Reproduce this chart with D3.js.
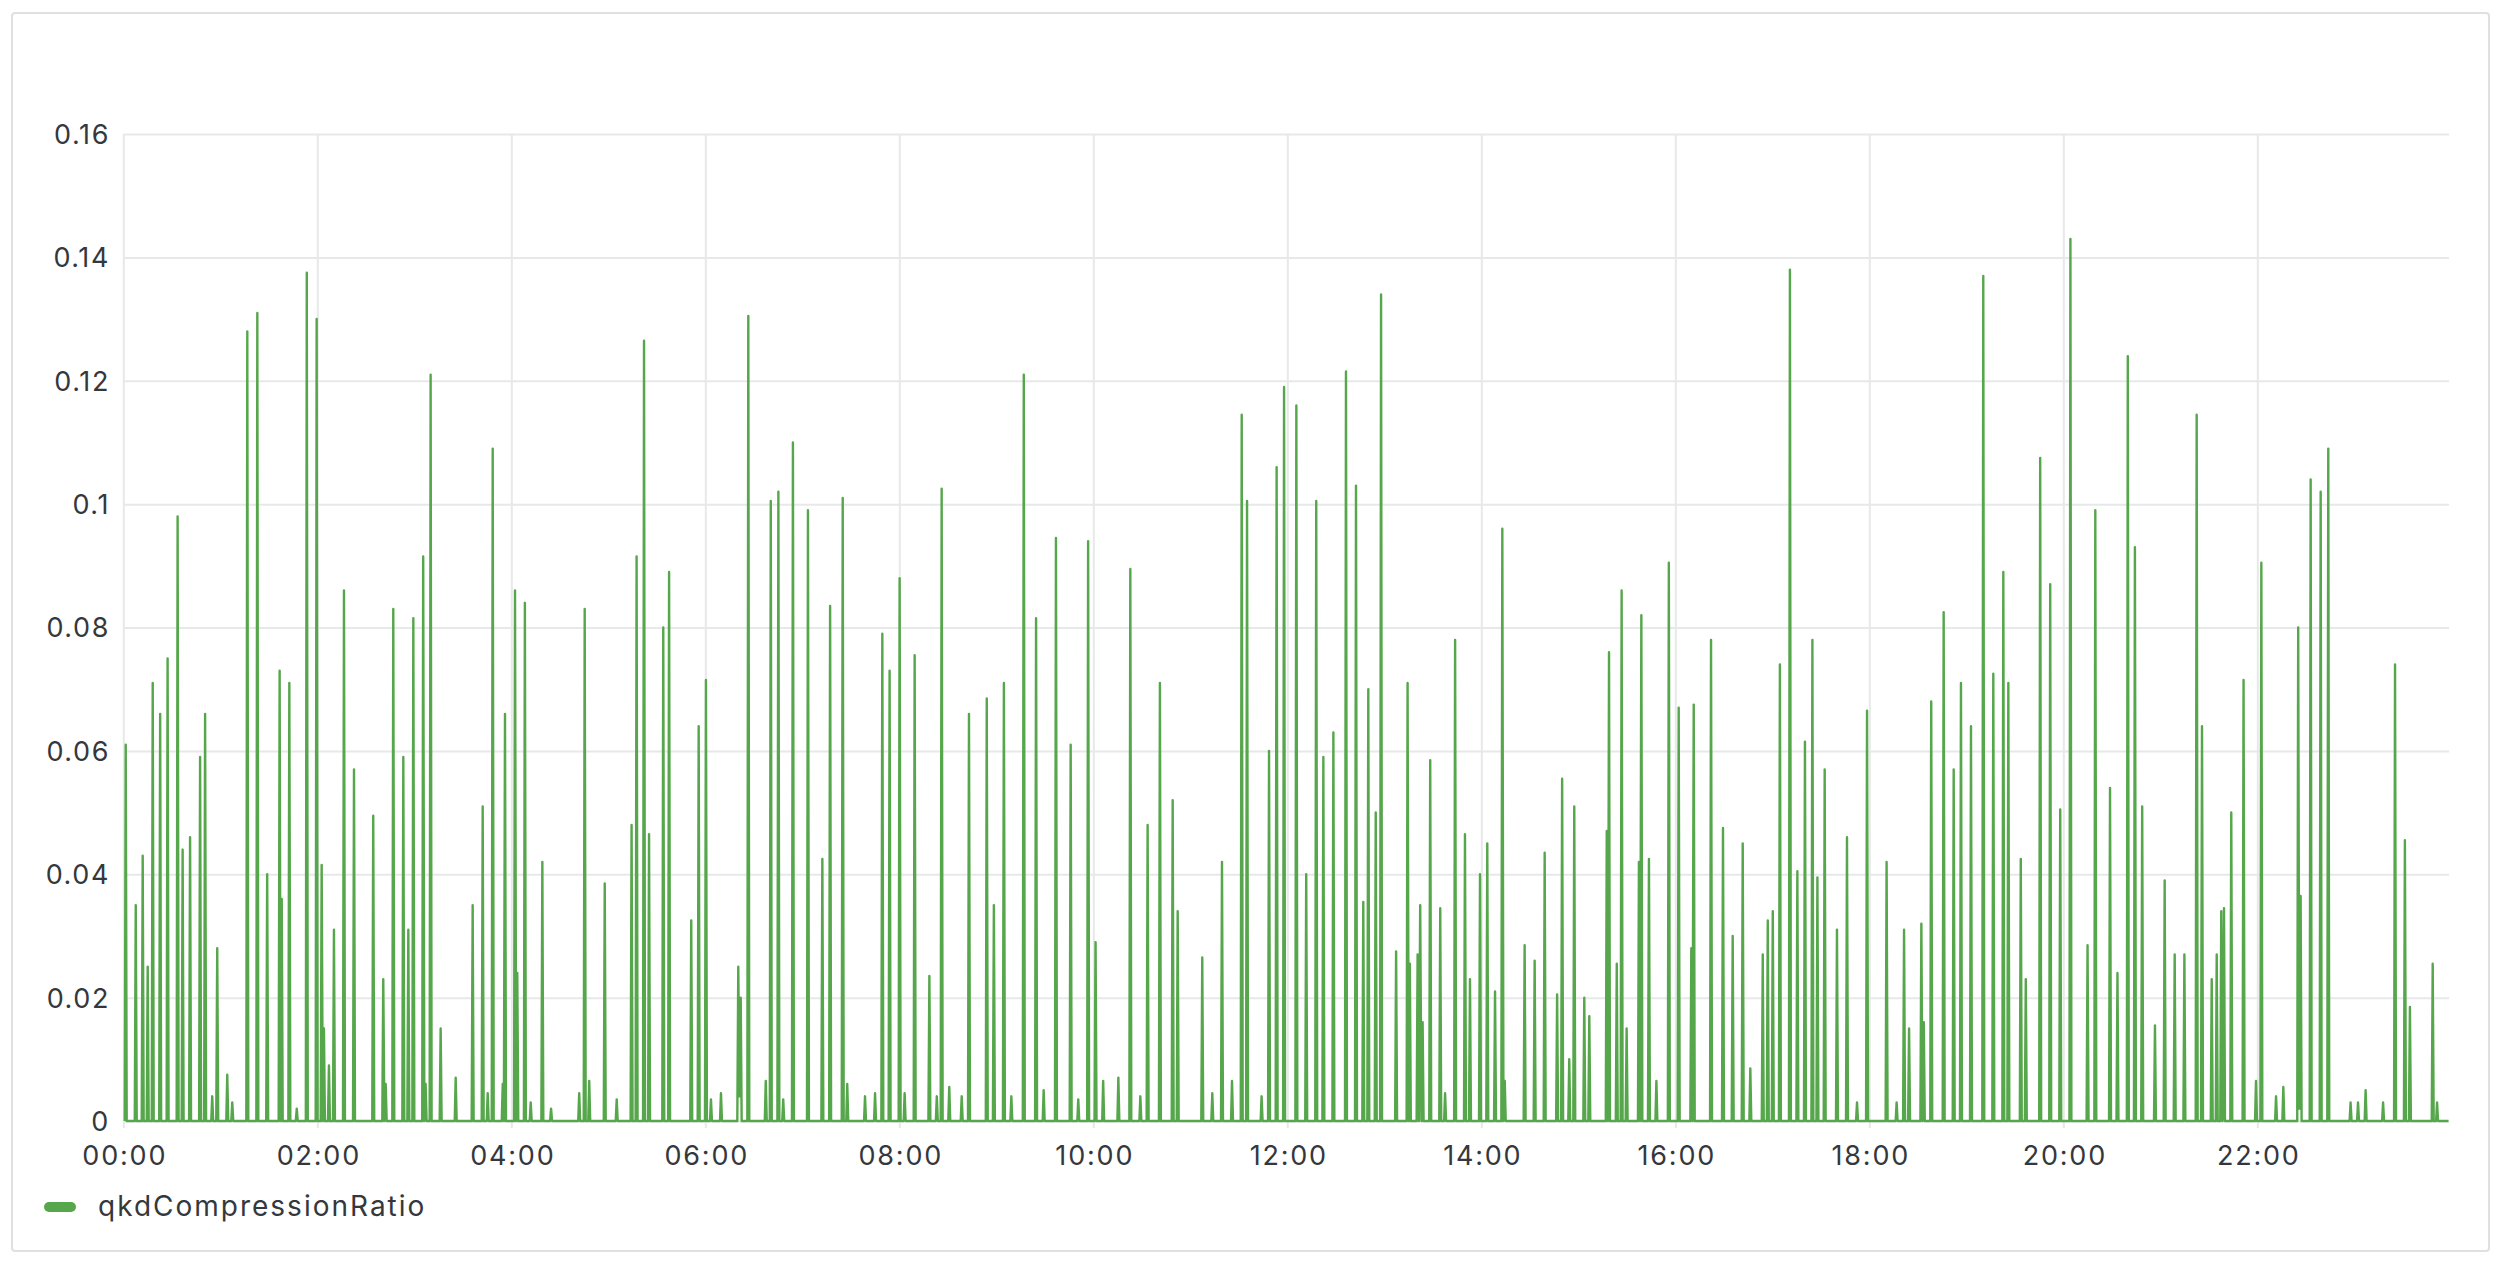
<!DOCTYPE html>
<html>
<head>
<meta charset="utf-8">
<script src="https://cdn.jsdelivr.net/npm/d3@7"></script>
<style>
  html, body { margin: 0; padding: 0; background: #ffffff; }
  svg { display: block; }
</style>
</head>
<body>
<svg id="chart" width="2500" height="1262"></svg>
<script>
// ---------------- data ----------------
const seriesName = "qkdCompressionRatio";
const yTickValues = [0, 0.02, 0.04, 0.06, 0.08, 0.1, 0.12, 0.14, 0.16];
const yTickLabels = ["0", "0.02", "0.04", "0.06", "0.08", "0.1", "0.12", "0.14", "0.16"];
const xTickMinutes = [0, 120, 240, 360, 480, 600, 720, 840, 960, 1080, 1200, 1320];
const xTickLabels = ["00:00", "02:00", "04:00", "06:00", "08:00", "10:00", "12:00", "14:00", "16:00", "18:00", "20:00", "22:00"];
const timeRangeMinutes = [0, 1438.5];
// [minutes since 00:00, qkdCompressionRatio]
const ratioSamples = [
[0.9,0],[1.5,.061],[2.1,0],[7.1,0],[7.7,.035],[8.3,0],[11.4,0],[12.0,.043],[12.6,0],[14.5,0],[15.1,.025],[15.7,0],
[17.6,0],[18.2,.071],[18.8,0],[22.2,0],[22.8,.066],[23.4,0],[26.8,0],[27.4,.075],[28.0,0],[33.0,0],[33.6,.098],[34.2,0],
[36.1,0],[36.7,.044],[37.3,0],[40.7,0],[41.3,.046],[41.9,0],[46.9,0],[47.5,.059],[48.1,0],[50.0,0],[50.6,.066],[51.2,0],
[54.4,0],[55.0,.004],[55.6,0],[57.5,0],[58.1,.028],[58.7,0],[63.7,0],[64.3,.0075],[64.9,0],[66.8,0],[67.4,.003],[68.0,0],
[76.1,0],[76.7,.128],[77.3,0],[82.3,0],[82.9,.131],[83.5,0],[88.4,0],[89.0,.040],[89.6,0],
[96.1,0],[96.7,.073],[97.3,0],[98.0,.036],[98.6,0],[102.1,0],[102.7,.071],[103.3,0],[106.7,0],[107.3,.002],[107.9,0],
[112.9,0],[113.5,.1375],[114.1,0],[119.0,0],[119.6,.130],[120.2,0],[122.1,0],[122.7,.0415],[123.4,0],[124.1,.015],[124.7,0],
[126.6,0],[127.2,.009],[127.8,0],[129.7,0],[130.3,.031],[130.9,0],[135.9,0],[136.5,.086],[137.1,0],[142.1,0],[142.7,.057],[143.3,0],
[154.0,0],[154.6,.0495],[155.2,0],[160.2,0],[160.8,.023],[161.5,0],[162.3,.006],[162.9,0],[166.4,0],[167.0,.083],[167.6,0],
[172.6,0],[173.2,.059],[173.8,0],[175.7,0],[176.3,.031],[176.9,0],[178.8,0],[179.4,.0815],[180.0,0],
[184.9,0],[185.5,.0915],[186.2,0],[187.0,.006],[187.6,0],[189.5,0],[190.1,.121],[190.7,0],[195.7,0],[196.3,.015],[196.9,0],
[205.0,0],[205.6,.007],[206.2,0],[215.5,0],[216.1,.035],[216.7,0],[221.7,0],[222.3,.051],[222.9,0],[224.8,0],[225.4,.0045],[226.0,0],
[227.9,0],[228.5,.109],[229.1,0],[234.1,0],[234.7,.006],[235.4,0],[236.1,.066],[236.7,0],
[241.7,0],[242.3,.086],[243.0,0],[243.7,.024],[244.3,0],[247.8,0],[248.4,.084],[249.0,0],[251.4,0],[252.0,.003],[252.6,0],
[258.6,0],[259.2,.042],[259.8,0],[264.0,0],[264.6,.002],[265.2,0],[281.4,0],[282.0,.0045],[282.6,0],[284.8,0],[285.4,.083],[286.0,0],
[287.6,0],[288.2,.0065],[288.8,0],[297.2,0],[297.8,.0385],[298.4,0],[304.6,0],[305.2,.0035],[305.8,0],
[313.8,0],[314.4,.048],[315.0,0],[316.9,0],[317.5,.0915],[318.1,0],[321.5,0],[322.1,.1265],[322.7,0],[324.6,0],[325.2,.0465],[325.8,0],
[333.4,0],[334.0,.080],[334.6,0],[337.0,0],[337.6,.089],[338.2,0],[350.7,0],[351.3,.0325],[351.9,0],[355.3,0],[355.9,.064],[356.5,0],
[359.8,0],[360.4,.0715],[361.0,0],[362.9,0],[363.5,.0035],[364.1,0],[369.1,0],[369.7,.0045],[370.3,0],
[379.8,0],[380.4,.025],[381.1,.004],[381.9,.020],[382.5,0],[386.0,0],[386.6,.1305],[387.2,0],[396.8,0],[397.4,.0065],[398.0,0],
[399.9,0],[400.5,.1005],[401.1,0],[404.6,0],[405.2,.102],[405.8,0],[407.6,0],[408.2,.0035],[408.8,0],[413.6,0],[414.2,.110],[414.8,0],
[422.9,0],[423.5,.099],[424.1,0],[431.8,0],[432.4,.0425],[433.0,0],[436.6,0],[437.2,.0835],[437.8,0],[444.4,0],[445.0,.101],[445.6,0],
[447.2,0],[447.8,.006],[448.4,0],[458.2,0],[458.8,.004],[459.4,0],[464.4,0],[465.0,.0045],[465.6,0],[468.9,0],[469.5,.079],[470.1,0],
[473.4,0],[474.0,.073],[474.6,0],[479.6,0],[480.2,.088],[480.8,0],[482.7,0],[483.3,.0045],[483.9,0],[488.9,0],[489.5,.0755],[490.1,0],
[498.0,0],[498.6,.0235],[499.2,0],[502.6,0],[503.2,.004],[503.8,0],[505.6,0],[506.2,.1025],[506.8,0],[510.3,0],[510.9,.0055],[511.5,0],
[518.0,0],[518.6,.004],[519.2,0],[522.5,0],[523.1,.066],[523.7,0],[533.5,0],[534.1,.0685],[534.7,0],[537.9,0],[538.5,.035],[539.1,0],
[544.1,0],[544.7,.071],[545.3,0],[548.7,0],[549.3,.004],[549.9,0],[556.4,0],[557.0,.121],[557.6,0],[564.0,0],[564.6,.0815],[565.2,0],
[568.7,0],[569.3,.005],[569.9,0],[576.3,0],[576.9,.0945],[577.5,0],[585.4,0],[586.0,.061],[586.6,0],[590.1,0],[590.7,.0035],[591.3,0],
[596.2,0],[596.8,.094],[597.4,0],[600.8,0],[601.4,.029],[602.0,0],[605.5,0],[606.1,.0065],[606.7,0],[614.9,0],[615.5,.007],[616.1,0],
[622.3,0],[622.9,.0895],[623.5,0],[628.5,0],[629.1,.004],[629.7,0],[633.0,0],[633.6,.048],[634.2,0],[640.6,0],[641.2,.071],[641.8,0],
[648.5,0],[649.1,.052],[649.7,0],[651.6,0],[652.2,.034],[652.8,0],[666.8,0],[667.4,.0265],[668.0,0],[673.0,0],[673.6,.0045],[674.2,0],
[679.0,0],[679.6,.042],[680.2,0],[685.2,0],[685.8,.0065],[686.4,0],[691.2,0],[691.8,.1145],[692.4,0],[694.5,0],[695.1,.1005],[695.7,0],
[703.5,0],[704.1,.004],[704.7,0],[708.1,0],[708.7,.060],[709.3,0],[712.8,0],[713.4,.106],[714.0,0],[717.4,0],[718.0,.119],[718.6,0],
[725.0,0],[725.6,.116],[726.2,0],[731.1,0],[731.7,.040],[732.3,0],[737.3,0],[737.9,.1005],[738.5,0],[741.7,0],[742.3,.059],[742.9,0],
[747.9,0],[748.5,.063],[749.1,0],[755.7,0],[756.3,.1215],[756.9,0],[761.9,0],[762.5,.103],[763.1,0],[766.4,0],[767.0,.0355],[767.6,0],
[769.5,0],[770.1,.070],[770.7,0],[774.1,0],[774.7,.050],[775.3,0],[777.4,0],[778.0,.134],[778.6,0],[786.7,0],[787.3,.0275],[787.9,0],
[793.8,0],[794.4,.071],[795.1,0],[795.8,.0255],[796.4,0],
[800.0,0],[800.6,.027],[801.4,0],[802.2,.035],[803.0,0],[803.7,.016],[804.3,0],
[807.8,0],[808.4,.0585],[809.0,0],[814.0,0],[814.6,.0345],[815.2,0],[817.0,0],[817.6,.0045],[818.2,0],[823.2,0],[823.8,.078],[824.4,0],
[829.3,0],[829.9,.0465],[830.5,0],[832.4,0],[833.0,.023],[833.6,0],[838.6,0],[839.2,.040],[839.8,0],[843.1,0],[843.7,.045],[844.3,0],
[847.9,0],[848.5,.021],[849.1,0],[852.4,0],[853.0,.096],[853.7,0],[854.5,.0065],[855.1,0],
[866.2,0],[866.8,.0285],[867.4,0],[872.4,0],[873.0,.026],[873.6,0],[878.6,0],[879.2,.0435],[879.8,0],[886.3,0],[886.9,.0205],[887.5,0],
[889.4,0],[890.0,.0555],[890.6,0],[893.8,0],[894.4,.010],[895.0,0],[896.9,0],[897.5,.051],[898.1,0],[903.1,0],[903.7,.020],[904.3,0],
[906.2,0],[906.8,.017],[907.4,0],[917.0,0],[917.6,.047],[918.3,0],[919.0,.076],[919.6,0],[923.2,0],[923.8,.0255],[924.4,0],
[926.2,0],[926.8,.086],[927.4,0],[929.3,0],[929.9,.015],[930.5,0],[936.9,0],[937.5,.042],[938.2,0],[939.0,.082],[939.6,0],
[943.1,0],[943.7,.0425],[944.3,0],[947.7,0],[948.3,.0065],[948.9,0],[955.4,0],[956.0,.0905],[956.6,0],[961.5,0],[962.1,.067],[962.7,0],
[969.3,0],[969.9,.028],[970.6,0],[971.4,.0675],[972.0,0],[981.5,0],[982.1,.078],[982.7,0],[988.9,0],[989.5,.0475],[990.1,0],
[994.9,0],[995.5,.030],[996.1,0],[1001.1,0],[1001.7,.045],[1002.3,0],[1005.8,0],[1006.4,.0085],[1007.0,0],
[1013.5,0],[1014.1,.027],[1014.7,0],[1016.6,0],[1017.2,.0325],[1017.8,0],[1019.7,0],[1020.3,.034],[1020.9,0],
[1024.1,0],[1024.7,.074],[1025.3,0],[1030.3,0],[1030.9,.138],[1031.5,0],[1034.9,0],[1035.5,.0405],[1036.1,0],
[1039.6,0],[1040.2,.0615],[1040.8,0],[1044.2,0],[1044.8,.078],[1045.4,0],[1047.3,0],[1047.9,.0395],[1048.5,0],
[1051.8,0],[1052.4,.057],[1053.0,0],[1059.4,0],[1060.0,.031],[1060.6,0],[1065.6,0],[1066.2,.046],[1066.8,0],
[1071.8,0],[1072.4,.003],[1073.0,0],[1078.0,0],[1078.6,.0665],[1079.2,0],[1090.1,0],[1090.7,.042],[1091.3,0],
[1096.3,0],[1096.9,.003],[1097.5,0],[1100.9,0],[1101.5,.031],[1102.1,0],[1104.0,0],[1104.6,.015],[1105.2,0],
[1111.6,0],[1112.2,.032],[1112.9,0],[1113.7,.016],[1114.3,0],[1117.7,0],[1118.3,.068],[1118.9,0],
[1125.4,0],[1126.0,.0825],[1126.6,0],[1131.6,0],[1132.2,.057],[1132.8,0],[1136.1,0],[1136.7,.071],[1137.3,0],
[1142.3,0],[1142.9,.064],[1143.5,0],[1149.9,0],[1150.5,.137],[1151.1,0],[1156.1,0],[1156.7,.0725],[1157.3,0],
[1162.3,0],[1162.9,.089],[1163.5,0],[1165.4,0],[1166.0,.071],[1166.6,0],[1173.1,0],[1173.7,.0425],[1174.3,0],
[1176.2,0],[1176.8,.023],[1177.4,0],[1185.1,0],[1185.7,.1075],[1186.3,0],[1191.3,0],[1191.9,.087],[1192.5,0],
[1197.5,0],[1198.1,.0505],[1198.7,0],[1203.8,0],[1204.4,.143],[1205.0,0],[1214.4,0],[1215.0,.0285],[1215.6,0],
[1219.2,0],[1219.8,.099],[1220.4,0],[1228.3,0],[1228.9,.054],[1229.5,0],[1232.9,0],[1233.5,.024],[1234.1,0],
[1239.3,0],[1239.9,.124],[1240.5,0],[1243.7,0],[1244.3,.093],[1244.9,0],[1248.2,0],[1248.8,.051],[1249.4,0],
[1256.1,0],[1256.7,.0155],[1257.3,0],[1262.1,0],[1262.7,.039],[1263.3,0],[1268.3,0],[1268.9,.027],[1269.5,0],
[1274.3,0],[1274.9,.027],[1275.5,0],[1281.9,0],[1282.5,.1145],[1283.1,0],[1285.2,0],[1285.8,.064],[1286.4,0],
[1291.2,0],[1291.8,.023],[1292.4,0],[1294.3,0],[1294.9,.027],[1295.5,0],[1297.1,0],[1297.7,.034],[1298.5,0],[1299.4,.0345],[1300.0,0],
[1303.3,0],[1303.9,.050],[1304.5,0],[1310.9,0],[1311.5,.0715],[1312.1,0],[1318.6,0],[1319.2,.0065],[1319.8,0],
[1321.9,0],[1322.5,.0905],[1323.1,0],[1331.0,0],[1331.6,.004],[1332.2,0],[1335.5,0],[1336.1,.0055],[1336.7,0],
[1344.7,0],[1345.3,.080],[1346.0,.002],[1346.8,.0365],[1347.4,0],[1352.4,0],[1353.0,.104],[1353.6,0],
[1358.6,0],[1359.2,.102],[1359.8,0],[1363.3,0],[1363.9,.109],[1364.5,0],[1377.1,0],[1377.7,.003],[1378.3,0],
[1381.7,0],[1382.3,.003],[1382.9,0],[1386.4,0],[1387.0,.005],[1387.6,0],[1397.2,0],[1397.8,.003],[1398.4,0],
[1404.6,0],[1405.2,.074],[1405.8,0],[1410.7,0],[1411.3,.0455],[1411.9,0],[1413.8,0],[1414.4,.0185],[1415.0,0],
[1427.9,0],[1428.5,.0255],[1429.1,0],[1430.6,0],[1431.2,.003],[1431.8,0],[1438.3,0]
];

// ---------------- layout ----------------
const plot = { left: 123.3, right: 2449, top: 134, bottom: 1121 };
const FONT = "Inter, 'Noto Sans', sans-serif";
const textColor = "#34383d";
const gridColor = "#e7e8e9";
const lineColor = "#56A64B";

const svg = d3.select("#chart");

// panel
svg.append("rect")
  .attr("x", 12).attr("y", 13)
  .attr("width", 2477).attr("height", 1238)
  .attr("rx", 3)
  .attr("fill", "#ffffff")
  .attr("stroke", "#dfe0e2")
  .attr("stroke-width", 2);

const x = d3.scaleLinear().domain(timeRangeMinutes).range([plot.left, plot.left + timeRangeMinutes[1] * 97 / 60]);
const y = d3.scaleLinear().domain([0, 0.16]).range([plot.bottom, plot.top]);

// horizontal grid + y axis labels
const yAxis = d3.axisLeft(y)
  .tickValues(yTickValues)
  .tickFormat((d, i) => yTickLabels[i])
  .tickSize(-(plot.right - plot.left))
  .tickPadding(16);
const gy = svg.append("g").attr("transform", `translate(${plot.left},0)`).call(yAxis);
gy.select(".domain").remove();
gy.selectAll(".tick line").attr("stroke", gridColor).attr("stroke-width", 2);
gy.selectAll(".tick text")
  .attr("fill", textColor)
  .style("font-family", FONT)
  .style("font-size", "27px")
  .style("letter-spacing", "1.6px")
  .attr("x", 110 - plot.left)
  .attr("dy", "0.35em");

// vertical grid + x axis labels
const xAxis = d3.axisBottom(x)
  .tickValues(xTickMinutes)
  .tickFormat((d, i) => xTickLabels[i])
  .tickSize(-(plot.bottom - plot.top))
  .tickPadding(0);
const gx = svg.append("g").attr("transform", `translate(0,${plot.bottom})`).call(xAxis);
gx.select(".domain").remove();
gx.selectAll(".tick line")
  .attr("stroke", gridColor).attr("stroke-width", 2)
  .attr("y1", -(plot.bottom - plot.top)).attr("y2", 7);
gx.selectAll(".tick text")
  .attr("fill", textColor)
  .style("font-family", FONT)
  .style("font-size", "27px")
  .style("letter-spacing", "1.8px")
  .attr("x", 1)
  .attr("y", 44)
  .attr("dy", null);

// series line
const line = d3.line()
  .x(d => x(d[0]))
  .y(d => y(d[1]));

svg.append("path")
  .datum(ratioSamples)
  .attr("d", line)
  .attr("fill", "none")
  .attr("stroke", lineColor)
  .attr("stroke-width", 2.4)
  .attr("stroke-linejoin", "round");

// legend
const legend = svg.append("g").attr("transform", "translate(0,1207)");
legend.append("line")
  .attr("x1", 49).attr("x2", 71).attr("y1", 0).attr("y2", 0)
  .attr("stroke", lineColor).attr("stroke-width", 10).attr("stroke-linecap", "round");
legend.append("text")
  .attr("x", 98).attr("y", 9)
  .attr("fill", textColor)
  .style("font-family", FONT)
  .style("font-size", "28px")
  .style("letter-spacing", "2px")
  .text(seriesName);
</script>
</body>
</html>
